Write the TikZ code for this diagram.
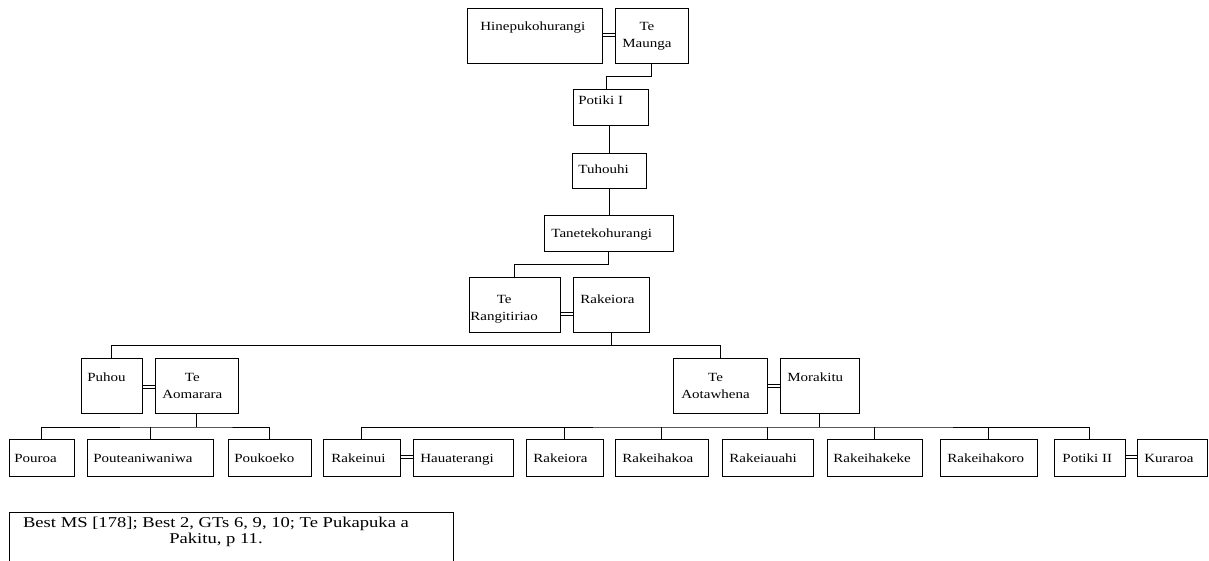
\documentclass[tikz,border=0pt]{standalone}
\usepackage{fontspec}
\newfontfamily\namefont[FakeStretch=1.2]{Liberation Serif}
\newfontfamily\srcfont[FakeStretch=1.24]{Liberation Serif}

% one or two lines, first baseline on top
\newcommand{\kname}[1]{\begin{tabular}[t]{@{}c@{}}#1\end{tabular}}

\tikzset{
  box/.style={draw, line width=0.8pt, anchor=north west, inner sep=0pt, outer sep=0pt},
  who/.style={anchor=base west, inner sep=0pt, font=\namefont\fontsize{12.5}{17.5}\selectfont},
}

\begin{document}
\begin{tikzpicture}[x=1pt, y=-1pt, line width=0.8pt]
    \useasboundingbox (0,0) rectangle (1209,560);

    % Boxes: name/left/top/right/bottom/pad/baseline/text
    \foreach \n/\xa/\ya/\xb/\yb/\px/\by/\t in {
        hine/467/8/602/63/13/22/Hinepukohurangi,
        maunga/615/8/688/63/7/22/{Te\\Maunga},
        potiki/573/89/648/125/5/15/Potiki I,
        tuhouhi/572/153/646/188/6/20/Tuhouhi,
        tane/544/215/673/251/7/22/Tanetekohurangi,
        rangi/469/277/560/332/1/26/{Te\\Rangitiriao},
        rakeiora/573/277/649/332/7/26/Rakeiora,
        puhou/81/358/142/413/6/23/Puhou,
        aomarara/155/358/238/413/7/23/{Te\\Aomarara},
        aotawhena/673/358/767/413/8/23/{Te\\Aotawhena},
        morakitu/780/358/859/413/7/23/Morakitu,
        pouroa/9/439/74/476/5/23/Pouroa,
        poutea/87/439/213/476/6/23/Pouteaniwaniwa,
        poukoeko/228/439/311/476/6/23/Poukoeko,
        rakeinui/323/439/400/476/8/23/Rakeinui,
        hauate/413/439/513/476/7/23/Hauaterangi,
        rakeiorab/526/439/603/476/7/23/Rakeiora,
        rakeihakoa/615/439/708/476/7/23/Rakeihakoa,
        rakeiauahi/722/439/813/476/7/23/Rakeiauahi,
        rakeihakeke/827/439/922/476/6/23/Rakeihakeke,
        rakeihakoro/940/439/1037/476/7/23/Rakeihakoro,
        potikib/1054/439/1125/476/8/23/Potiki II,
        kuraroa/1137/439/1207/476/7/23/Kuraroa}
    {
        \node[box, minimum width=\xb-\xa, minimum height=\yb-\ya] (\n) at (\xa,\ya) {};
        \node[who] (\n-t) at ([xshift=\px pt, yshift=-\by pt]\n.north west) {\kname{\t}};
    }

    % Marriages (two thin lines)
    \foreach \a/\b/\d in {hine/maunga/-1, rangi/rakeiora/9, puhou/aomarara/1,
                          aotawhena/morakitu/0, rakeinui/hauate/-1, potikib/kuraroa/-1}
        \foreach \s in {-1.4, 1.4}
            \draw[line width=0.7pt] ([shift={(0,\d+\s)}]\a.east) -- ([shift={(0,\d+\s)}]\b.west);

    % Descent lines
    \draw (maunga.south) -- ++(0,13) -| ([xshift=-4.5pt]potiki.north);
    \draw (tuhouhi.north) -- (tuhouhi.north |- potiki.south);
    \draw (tuhouhi.south) -- (tuhouhi.south |- tane.north);
    \draw (tane.south) -- ++(0,13) -| (rangi.north);
    \draw (rakeiora.south) -- ++(0,13.5) coordinate (rk);
    \draw (puhou.north) |- (rk) -| (aotawhena.north);
    \draw (aomarara.south) -- ++(0,14) coordinate (ao);
    \draw (pouroa.north) |- (ao) -| (poukoeko.north);
    \draw (poutea.north) -- (poutea.north |- ao);
    \draw (morakitu.south) -- ++(0,14) coordinate (mo);
    \draw (rakeinui.north) |- (mo) -| (potikib.north);
    \foreach \c in {rakeiorab, rakeihakoa, rakeiauahi, rakeihakeke, rakeihakoro}
        \draw (\c.north) -- (\c.north |- mo);

    % Sources
    \node[box, minimum width=444, minimum height=50] (src) at (9,512) {};
    \node[anchor=base, inner sep=0pt, font=\srcfont\fontsize{15}{16}\selectfont] (src-t) at (216,527)
        {\begin{tabular}[t]{@{}c@{}}Best MS [178]; Best 2, GTs 6, 9, 10; Te Pukapuka a\\Pakitu, p 11.\end{tabular}};
\end{tikzpicture}
\end{document}
